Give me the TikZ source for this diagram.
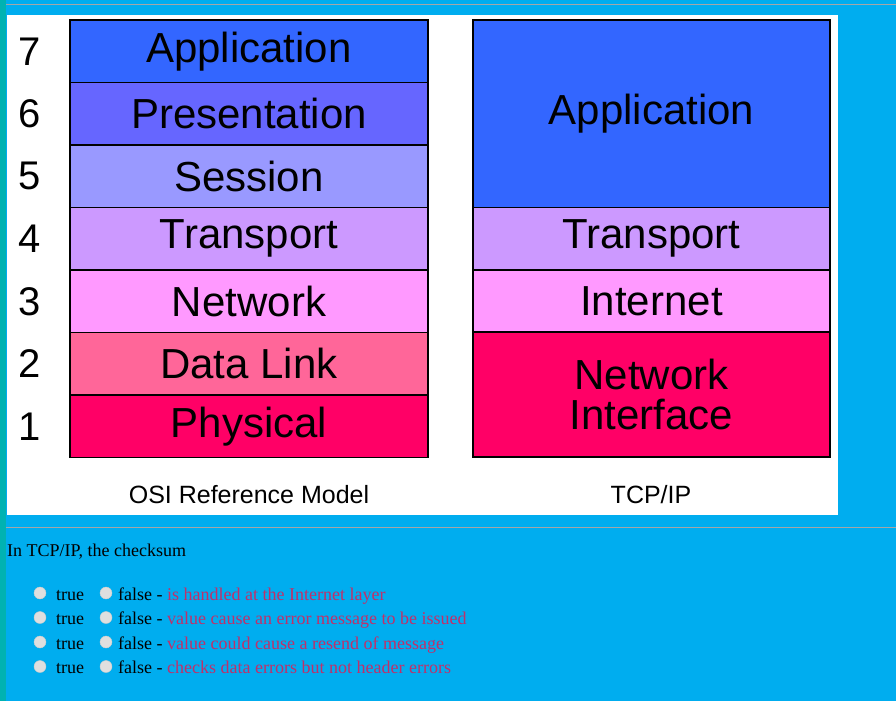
\documentclass[tikz,border=0pt]{standalone}
\usepackage{fontspec}
\setmainfont{Liberation Serif}
\newfontfamily\arialf{Liberation Sans}
\begin{document}
\begin{tikzpicture}[x=1pt,y=-1pt,
 lay/.style={draw=black,line width=1.5pt,inner sep=0pt,font=\arialf\fontsize{42}{44}\selectfont,align=center},
 num/.style={font=\arialf\fontsize{40}{40}\selectfont},
 captxt/.style={font=\arialf\fontsize{25}{25}\selectfont},
 qt/.style={anchor=base west,inner sep=0pt,font=\fontsize{18}{20}\selectfont},
 radio/.style={circle,fill=gray!25,draw=gray!40,minimum size=12pt,inner sep=0pt}]
\useasboundingbox (0,0) rectangle (896,701);
\fill[cyan] (0,0) rectangle (896,701);
\fill[teal!60!cyan] (0,0) rectangle (6,701);
\draw[gray!70,line width=1pt] (6,5) -- (896,5);
\draw[gray!70,line width=1pt] (6,527) -- (896,527);
\fill[white] (7,15) rectangle (838,515);
\definecolor{c7}{HTML}{3366FF}\definecolor{c6}{HTML}{6666FF}\definecolor{c5}{HTML}{9999FF}
\definecolor{c4}{HTML}{CC99FF}\definecolor{c3}{HTML}{FF99FF}\definecolor{c2}{HTML}{FF6699}\definecolor{c1}{HTML}{FF0066}
\definecolor{pinkq}{HTML}{C0306A}
\foreach \n/\t/\c [count=\i from 0] in {7/Application/c7,6/Presentation/c6,5/Session/c5,4/Transport/c4,3/Network/c3,2/Data Link/c2,1/Physical/c1}{
 \node[lay,fill=\c,minimum width=358pt,minimum height=62.5pt] (o\n) at (249,51.25+62.5*\i) {\t};
 \node[num] (n\n) at (30,51.25+62.5*\i) {\n};
}
\node[lay,fill=c7,minimum width=357pt,minimum height=187.5pt] (ta) at (651.5,113.75) {Application};
\node[lay,fill=c4,minimum width=357pt,minimum height=62.5pt] (tt) at (651.5,238.75) {Transport};
\node[lay,fill=c3,minimum width=357pt,minimum height=62.5pt] (ti) at (651.5,301.25) {Internet};
\node[lay,fill=c1,minimum width=357pt,minimum height=125pt] (tn) at (651.5,394.5) {Network\\[-4pt]Interface};
\node[captxt] (co) at (249,495) {OSI Reference Model};
\node[captxt] (ct) at (651,495) {TCP/IP};
\node[qt] (q) at (7,556) {In TCP/IP, the checksum};
\foreach \t [count=\i from 0] in {is handled at the Internet layer,value cause an error message to be issued,value could cause a resend of message,checks data errors but not header errors}{
 \node[radio] (r\i a) at (40,593+24.5*\i) {};
 \node[qt] (t\i) at (56,600+24.5*\i) {true};
 \node[radio] (r\i b) at (106,593+24.5*\i) {};
 \node[qt] (f\i) at (118,600+24.5*\i) {false - \textcolor{pinkq}{\t}};
}
\end{tikzpicture}
\end{document}
